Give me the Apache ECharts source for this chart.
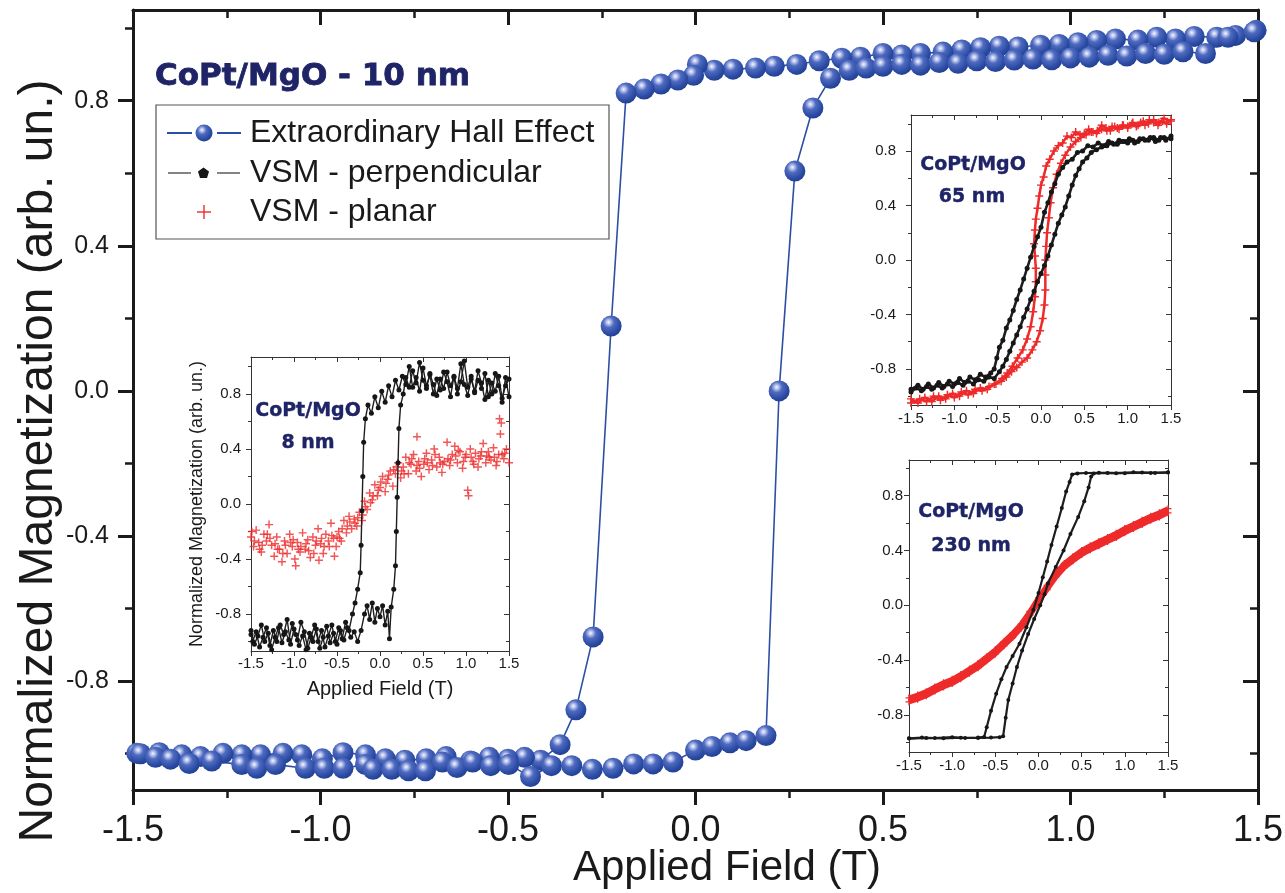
<!DOCTYPE html>
<html><head><meta charset="utf-8">
<script src="https://cdn.jsdelivr.net/npm/echarts@6/dist/echarts.min.js"></script>
<style>html,body{margin:0;padding:0;background:#fff}#c{width:1285px;height:893px}</style>
</head><body><div id="c"></div>
<script>
// ---------------- DATA ----------------
// Main plot: Extraordinary Hall Effect, CoPt/MgO 10 nm  [field (T), normalized M]
const eheUp = [
[-1.48,-1.0],[-1.44,-1.01],[-1.40,-1.015],[-1.35,-1.027],[-1.29,-1.02],[-1.21,-1.03],[-1.17,-1.04],[-1.12,-1.03],[-1.04,-1.04],[-0.99,-1.04],[-0.94,-1.04],[-0.88,-1.03],[-0.86,-1.043],[-0.81,-1.043],[-0.765,-1.047],[-0.72,-1.047],[-0.675,-1.023],[-0.636,-1.038],[-0.594,-1.023],[-0.546,-1.033],[-0.498,-1.03],[-0.44,-1.063],[-0.384,-1.033],[-0.33,-1.033],[-0.275,-1.043],[-0.22,-1.04],[-0.165,-1.028],[-0.113,-1.028],[-0.06,-1.023],[0.0,-0.99],[0.044,-0.98],[0.092,-0.97],[0.135,-0.964],[0.188,-0.95],
[0.223,0.0],[0.265,0.606],[0.313,0.78],[0.36,0.862],[0.41,0.884],[0.455,0.89],[0.50,0.895],[0.55,0.90],[0.60,0.898],[0.65,0.905],[0.70,0.903],[0.75,0.91],[0.80,0.908],[0.85,0.912],[0.90,0.915],[0.95,0.913],[1.00,0.918],[1.05,0.92],[1.10,0.925],[1.15,0.923],[1.20,0.93],[1.25,0.928],[1.30,0.935],[1.36,0.93],[1.42,0.975],[1.49,0.99]
];
const eheDown = [
[1.495,0.994],[1.44,0.98],[1.39,0.975],[1.33,0.977],[1.28,0.97],[1.23,0.975],[1.18,0.967],[1.12,0.97],[1.07,0.966],[1.02,0.96],[0.97,0.955],[0.92,0.953],[0.86,0.948],[0.81,0.95],[0.76,0.946],[0.71,0.94],[0.66,0.934],[0.60,0.93],[0.55,0.926],[0.50,0.93],[0.44,0.92],[0.39,0.917],[0.33,0.91],[0.27,0.90],[0.21,0.895],[0.16,0.89],[0.10,0.887],[0.05,0.884],[0.005,0.9],[-0.005,0.87],[-0.047,0.857],[-0.092,0.846],[-0.137,0.832],[-0.185,0.821],
[-0.225,0.179],[-0.273,-0.678],[-0.319,-0.879],[-0.361,-0.975],
[-0.413,-1.018],[-0.456,-1.01],[-0.50,-1.015],[-0.55,-1.01],[-0.60,-1.02],[-0.665,-1.008],[-0.718,-1.014],[-0.775,-1.018],[-0.827,-1.014],[-0.88,-1.003],[-0.94,-0.997],[-0.995,-1.014],[-1.05,-1.003],[-1.10,-0.999],[-1.16,-1.003],[-1.21,-1.003],[-1.26,-0.999],[-1.32,-1.008],[-1.37,-1.003],[-1.43,-0.997],[-1.49,-0.999]
];

// Inset 8 nm
const black8Down = [
[1.50,0.78],[1.46,0.92],[1.42,0.74],[1.38,0.86],[1.34,0.95],[1.30,0.80],[1.26,0.90],[1.22,0.76],[1.18,0.88],[1.14,0.97],[1.10,0.82],[1.06,0.91],[1.02,0.79],[0.98,0.87],[0.94,1.02],[0.90,0.84],[0.86,0.93],[0.82,0.78],[0.78,0.89],[0.74,0.96],[0.70,0.83],[0.66,0.91],[0.62,0.80],[0.58,0.94],[0.54,0.86],[0.50,0.99],[0.46,0.82],[0.42,0.92],[0.38,0.85],[0.34,1.0],[0.30,0.87],[0.26,0.93],[0.22,0.83],[0.18,0.90],[0.14,0.78],[0.10,0.86],[0.06,0.74],[0.02,0.82],[-0.02,0.70],[-0.06,0.78],[-0.10,0.66],[-0.14,0.72],[-0.17,0.62],[-0.19,0.45],[-0.20,0.2],[-0.21,-0.05],[-0.22,-0.3],[-0.23,-0.5],[-0.26,-0.62],[-0.29,-0.72],[-0.32,-0.80],[-0.36,-0.92],[-0.40,-0.86],[-0.44,-0.98],[-0.48,-0.90],[-0.52,-1.0],[-0.56,-0.88],[-0.60,-0.96],[-0.64,-1.04],[-0.68,-0.92],[-0.72,-1.0],[-0.76,-0.88],[-0.80,-0.97],[-0.84,-1.05],[-0.88,-0.93],[-0.92,-0.86],[-0.96,-0.99],[-1.00,-0.91],[-1.04,-1.02],[-1.08,-0.84],[-1.12,-0.95],[-1.16,-0.88],[-1.20,-1.0],[-1.24,-0.92],[-1.28,-1.03],[-1.32,-0.90],[-1.36,-0.97],[-1.40,-1.04],[-1.44,-0.93],[-1.48,-1.0],[-1.50,-0.95]
];
const black8Up = [
[-1.50,-0.92],[-1.46,-1.02],[-1.42,-0.96],[-1.38,-0.88],[-1.34,-1.0],[-1.30,-0.94],[-1.26,-1.06],[-1.22,-0.97],[-1.18,-0.90],[-1.14,-1.01],[-1.10,-0.93],[-1.06,-0.99],[-1.02,-0.87],[-0.98,-0.95],[-0.94,-1.03],[-0.90,-0.96],[-0.86,-1.06],[-0.82,-0.94],[-0.78,-1.0],[-0.74,-0.91],[-0.70,-1.05],[-0.66,-0.97],[-0.62,-0.89],[-0.58,-1.01],[-0.54,-0.94],[-0.50,-1.02],[-0.46,-0.92],[-0.42,-0.99],[-0.38,-0.90],[-0.34,-0.97],[-0.30,-0.93],[-0.26,-1.0],[-0.22,-0.92],[-0.18,-0.80],[-0.15,-0.74],[-0.12,-0.84],[-0.09,-0.72],[-0.06,-0.86],[-0.03,-0.76],[0.00,-0.82],[0.03,-0.74],[0.06,-0.88],[0.09,-0.78],[0.11,-0.98],[0.13,-0.75],[0.16,-0.62],[0.18,-0.45],[0.19,-0.2],[0.20,0.05],[0.21,0.3],[0.22,0.55],[0.24,0.72],[0.27,0.80],[0.30,0.92],[0.34,0.85],[0.38,0.97],[0.42,0.88],[0.46,1.03],[0.50,0.90],[0.54,0.84],[0.58,0.95],[0.62,0.87],[0.66,0.79],[0.70,0.91],[0.74,0.84],[0.78,0.96],[0.82,0.86],[0.86,0.92],[0.90,0.80],[0.94,0.89],[0.98,1.04],[1.02,0.85],[1.06,0.93],[1.10,0.81],[1.14,0.90],[1.18,0.84],[1.22,0.95],[1.26,0.78],[1.30,0.88],[1.34,0.82],[1.38,0.93],[1.42,0.77],[1.46,0.86],[1.50,0.91]
];
const red8 = [
[-1.50,-0.24],[-1.47,-0.31],[-1.44,-0.19],[-1.41,-0.28],[-1.38,-0.35],[-1.35,-0.22],[-1.32,-0.27],[-1.29,-0.15],[-1.26,-0.30],[-1.23,-0.38],[-1.20,-0.24],[-1.17,-0.33],[-1.14,-0.42],[-1.11,-0.27],[-1.08,-0.36],[-1.05,-0.22],[-1.02,-0.31],[-0.99,-0.40],[-0.96,-0.28],[-0.93,-0.35],[-0.90,-0.21],[-0.87,-0.33],[-0.84,-0.26],[-0.81,-0.39],[-0.78,-0.24],[-0.75,-0.30],[-0.72,-0.18],[-0.69,-0.29],[-0.66,-0.36],[-0.63,-0.22],[-0.60,-0.27],[-0.57,-0.14],[-0.54,-0.25],[-0.51,-0.31],[-0.48,-0.20],[-0.45,-0.27],[-0.42,-0.12],[-0.39,-0.21],[-0.36,-0.09],[-0.33,-0.18],[-0.30,-0.11],[-0.27,-0.16],[-0.24,-0.06],[-0.21,-0.12],[-0.18,0.02],[-0.15,-0.04],[-0.12,0.08],[-0.09,0.03],[-0.06,0.14],[-0.03,0.06],[0.00,0.12],[0.03,0.20],[0.06,0.09],[0.09,0.18],[0.12,0.24],[0.15,0.13],[0.18,0.22],[0.21,0.30],[0.24,0.19],[0.27,0.27],[0.30,0.34],[0.33,0.22],[0.36,0.29],[0.39,0.36],[0.42,0.24],[0.45,0.31],[0.48,0.20],[0.51,0.29],[0.54,0.37],[0.57,0.25],[0.60,0.32],[0.63,0.40],[0.66,0.27],[0.69,0.34],[0.72,0.23],[0.75,0.31],[0.78,0.45],[0.81,0.28],[0.84,0.36],[0.87,0.42],[0.90,0.30],[0.93,0.38],[0.96,0.26],[0.99,0.34],[1.02,0.10],[1.05,0.40],[1.08,0.31],[1.11,0.37],[1.14,0.27],[1.17,0.35],[1.20,0.44],[1.23,0.30],[1.26,0.38],[1.29,0.32],[1.32,0.41],[1.35,0.28],[1.38,0.36],[1.41,0.59],[1.44,0.33],[1.47,0.40],[1.50,0.30],
[-1.46,-0.27],[-1.37,-0.30],[-1.28,-0.25],[-1.19,-0.33],[-1.10,-0.30],[-1.01,-0.26],[-0.92,-0.31],[-0.83,-0.34],[-0.74,-0.27],[-0.65,-0.31],[-0.56,-0.23],[-0.47,-0.25],[-0.38,-0.16],[-0.29,-0.14],[-0.20,-0.08],[-0.11,0.01],[-0.02,0.10],[0.07,0.15],[0.16,0.25],[0.25,0.24],[0.34,0.30],[0.43,0.28],[0.52,0.33],[0.61,0.28],[0.70,0.30],[0.79,0.33],[0.88,0.35],[0.97,0.31],[1.06,0.34],[1.15,0.33],[1.24,0.35],[1.33,0.34],[1.42,0.36],
[-1.49,-0.20],[-1.40,-0.33],[-1.31,-0.22],[-1.22,-0.29],[-1.13,-0.36],[-1.04,-0.28],[-0.95,-0.33],[-0.86,-0.29],[-0.77,-0.36],[-0.68,-0.25],[-0.59,-0.31],[-0.50,-0.24],[-0.44,-0.18],[-0.35,-0.13],[-0.26,-0.10],[-0.17,-0.02],[-0.08,0.06],[0.01,0.16],[0.10,0.21],[0.19,0.27],[0.28,0.22],[0.37,0.33],[0.46,0.26],[0.55,0.30],[0.64,0.36],[0.73,0.29],[0.82,0.32],[0.91,0.39],[1.00,0.36],[1.09,0.29],[1.18,0.38],[1.27,0.34],[1.36,0.31],[1.45,0.37],[-0.53,-0.38],[-0.71,-0.41],[-0.98,-0.45],[1.03,0.06],[0.43,0.49],[1.40,0.51],[1.39,0.62]
];

// Inset 65 nm
const black65Down = [
[1.50,0.91],[1.44,0.88],[1.38,0.90],[1.32,0.87],[1.26,0.90],[1.20,0.88],[1.14,0.89],[1.08,0.86],[1.02,0.89],[0.96,0.87],[0.90,0.88],[0.84,0.85],[0.78,0.87],[0.72,0.84],[0.66,0.86],[0.60,0.83],[0.54,0.84],[0.48,0.80],[0.42,0.79],[0.36,0.74],[0.30,0.72],[0.25,0.68],[0.20,0.63],[0.16,0.56],[0.12,0.50],[0.08,0.42],[0.04,0.35],[0.00,0.24],[-0.04,0.17],[-0.08,0.10],[-0.12,0.02],[-0.16,-0.06],[-0.20,-0.14],[-0.24,-0.22],[-0.28,-0.29],[-0.32,-0.37],[-0.36,-0.44],[-0.40,-0.50],[-0.44,-0.59],[-0.48,-0.64],[-0.51,-0.72],[-0.54,-0.80],[-0.58,-0.83],[-0.64,-0.86],[-0.70,-0.84],[-0.76,-0.88],[-0.82,-0.86],[-0.88,-0.90],[-0.94,-0.87],[-1.00,-0.91],[-1.06,-0.89],[-1.12,-0.93],[-1.18,-0.90],[-1.24,-0.94],[-1.30,-0.91],[-1.36,-0.95],[-1.42,-0.92],[-1.50,-0.95]
];
const black65Up = [
[-1.50,-0.97],[-1.44,-0.94],[-1.38,-0.96],[-1.32,-0.93],[-1.26,-0.95],[-1.20,-0.92],[-1.14,-0.94],[-1.08,-0.91],[-1.02,-0.93],[-0.96,-0.90],[-0.90,-0.92],[-0.84,-0.89],[-0.78,-0.91],[-0.72,-0.88],[-0.66,-0.89],[-0.60,-0.86],[-0.54,-0.87],[-0.48,-0.82],[-0.44,-0.78],[-0.40,-0.73],[-0.36,-0.67],[-0.32,-0.61],[-0.28,-0.55],[-0.24,-0.49],[-0.20,-0.42],[-0.16,-0.36],[-0.12,-0.29],[-0.08,-0.23],[-0.04,-0.16],[0.00,-0.10],[0.04,-0.04],[0.08,0.03],[0.12,0.11],[0.16,0.19],[0.20,0.27],[0.24,0.33],[0.28,0.39],[0.32,0.47],[0.36,0.55],[0.40,0.62],[0.44,0.67],[0.48,0.72],[0.53,0.75],[0.58,0.79],[0.64,0.81],[0.70,0.83],[0.76,0.84],[0.82,0.86],[0.88,0.85],[0.94,0.87],[1.00,0.86],[1.06,0.88],[1.12,0.87],[1.18,0.89],[1.24,0.88],[1.30,0.90],[1.36,0.88],[1.42,0.90],[1.50,0.89]
];
const red65Down = [
[1.50,1.03],[1.45,1.00],[1.40,1.02],[1.35,0.99],[1.30,1.01],[1.25,1.03],[1.20,0.99],[1.15,1.01],[1.10,0.98],[1.05,1.00],[1.00,0.97],[0.95,0.99],[0.90,0.96],[0.85,0.98],[0.80,0.95],[0.75,0.97],[0.70,0.99],[0.65,0.95],[0.60,0.94],[0.55,0.96],[0.50,0.93],[0.45,0.92],[0.40,0.94],[0.35,0.90],[0.30,0.91],[0.25,0.86],[0.20,0.84],[0.15,0.80],[0.10,0.74],[0.06,0.69],[0.03,0.61],[0.00,0.55],[-0.02,0.47],[-0.04,0.38],[-0.06,0.30],[-0.07,0.22],[-0.08,0.12],[-0.07,0.03],[-0.06,-0.06],[-0.06,-0.16],[-0.07,-0.27],[-0.09,-0.38],[-0.12,-0.49],[-0.16,-0.58],[-0.21,-0.66],[-0.27,-0.72],[-0.33,-0.78],[-0.39,-0.83],[-0.45,-0.87],[-0.52,-0.91],[-0.60,-0.93],[-0.68,-0.96],[-0.76,-0.95],[-0.84,-0.99],[-0.92,-0.97],[-1.00,-1.01],[-1.08,-0.99],[-1.16,-1.03],[-1.24,-1.00],[-1.32,-1.04],[-1.40,-1.02],[-1.50,-1.05]
];
const red65Up = [
[-1.50,-1.02],[-1.42,-1.05],[-1.34,-1.01],[-1.26,-1.04],[-1.18,-1.00],[-1.10,-1.02],[-1.02,-0.98],[-0.94,-1.00],[-0.86,-0.96],[-0.78,-0.98],[-0.70,-0.94],[-0.62,-0.95],[-0.54,-0.91],[-0.46,-0.89],[-0.40,-0.86],[-0.34,-0.82],[-0.28,-0.79],[-0.22,-0.75],[-0.16,-0.72],[-0.10,-0.66],[-0.05,-0.60],[-0.01,-0.52],[0.02,-0.43],[0.04,-0.33],[0.05,-0.22],[0.05,-0.11],[0.05,0.00],[0.06,0.10],[0.07,0.20],[0.09,0.31],[0.11,0.42],[0.14,0.53],[0.18,0.63],[0.23,0.71],[0.28,0.77],[0.34,0.83],[0.40,0.87],[0.46,0.90],[0.52,0.92],[0.58,0.94],[0.64,0.93],[0.70,0.96],[0.76,0.95],[0.82,0.98],[0.88,0.97],[0.94,0.99],[1.00,0.98],[1.06,1.01],[1.12,0.99],[1.18,1.02],[1.24,1.00],[1.30,1.03],[1.36,1.01],[1.42,1.04],[1.50,1.02]
];

// Inset 230 nm
const black230Down = [
[1.50,0.968],[1.30,0.966],[1.10,0.97],[0.90,0.964],[0.70,0.967],[0.55,0.965],[0.45,0.962],[0.39,0.955],[0.36,0.90],[0.32,0.83],[0.27,0.71],[0.21,0.575],[0.15,0.44],[0.10,0.32],[0.05,0.205],[0.0,0.09],[-0.06,-0.035],[-0.14,-0.16],[-0.22,-0.28],[-0.30,-0.37],[-0.37,-0.45],[-0.43,-0.54],[-0.49,-0.645],[-0.55,-0.77],[-0.60,-0.89],[-0.63,-0.96],[-0.70,-0.965],[-0.85,-0.968],[-1.00,-0.962],[-1.20,-0.968],[-1.35,-0.965],[-1.50,-0.97]
];
const black230Up = [
[-1.50,-0.972],[-1.30,-0.968],[-1.10,-0.97],[-0.90,-0.966],[-0.70,-0.968],[-0.55,-0.965],[-0.45,-0.962],[-0.41,-0.955],[-0.38,-0.82],[-0.35,-0.69],[-0.30,-0.57],[-0.25,-0.45],[-0.19,-0.33],[-0.12,-0.21],[-0.05,-0.10],[0.02,0.0],[0.07,0.08],[0.11,0.16],[0.20,0.28],[0.29,0.40],[0.37,0.52],[0.46,0.645],[0.53,0.76],[0.58,0.86],[0.61,0.94],[0.64,0.962],[0.80,0.966],[1.00,0.964],[1.20,0.968],[1.35,0.966],[1.50,0.97]
];
const red230Down = [
[1.50,0.705],[1.40,0.675],[1.30,0.65],[1.20,0.62],[1.10,0.59],[1.00,0.56],[0.90,0.525],[0.80,0.495],[0.70,0.465],[0.60,0.435],[0.50,0.40],[0.40,0.355],[0.30,0.305],[0.20,0.235],[0.10,0.145],[0.00,0.055],[-0.10,-0.045],[-0.20,-0.135],[-0.30,-0.205],[-0.40,-0.265],[-0.50,-0.325],[-0.60,-0.375],[-0.70,-0.425],[-0.80,-0.465],[-0.90,-0.505],[-1.00,-0.54],[-1.10,-0.565],[-1.20,-0.595],[-1.30,-0.63],[-1.40,-0.655],[-1.50,-0.675]
];
const red230Up = [
[-1.50,-0.705],[-1.40,-0.685],[-1.30,-0.66],[-1.20,-0.625],[-1.10,-0.595],[-1.00,-0.57],[-0.90,-0.535],[-0.80,-0.495],[-0.70,-0.455],[-0.60,-0.405],[-0.50,-0.355],[-0.40,-0.295],[-0.30,-0.235],[-0.20,-0.165],[-0.10,-0.075],[0.00,0.025],[0.10,0.115],[0.20,0.205],[0.30,0.275],[0.40,0.325],[0.50,0.37],[0.60,0.405],[0.70,0.435],[0.80,0.465],[0.90,0.495],[1.00,0.53],[1.10,0.56],[1.20,0.59],[1.30,0.62],[1.40,0.645],[1.50,0.675]
];

// Tick values
const yMajorTicks = [-0.8, -0.4, 0.0, 0.4, 0.8];
const yMinorTicks = [-1.0, -0.6, -0.2, 0.2, 0.6, 1.0];
const fieldRange = [-1.5, 1.5];
const fieldStep = 0.5;

// Texts
const mainTitle = 'CoPt/MgO - 10 nm';
const mainXName = 'Applied Field (T)';
const mainYName = 'Normalized Magnetization (arb. un.)';
const legendNames = ['Extraordinary Hall Effect', 'VSM - perpendicular', 'VSM - planar'];
const insetLabels = [['CoPt/MgO', '8 nm'], ['CoPt/MgO', '65 nm'], ['CoPt/MgO', '230 nm']];

// ---------------- CHART ----------------
const FONT = '"Liberation Sans", Arial, Helvetica, sans-serif';
const NAVY = '#1e2466';
const BLUE = '#2d4fa3';
const RED = '#ee2a2a';
const BLACK = '#161616';
const PLUS = 'path://M0,4.1 L10,4.1 L10,5.9 L0,5.9 Z M4.1,0 L5.9,0 L5.9,10 L4.1,10 Z';

function sphere() {
  return new echarts.graphic.RadialGradient(0.38, 0.32, 0.72, [
    {offset: 0, color: '#f6f7ff'}, {offset: 0.14, color: '#b8c3ec'},
    {offset: 0.36, color: '#4f6bc0'}, {offset: 0.75, color: '#2c4ca4'}, {offset: 1, color: '#1f3d92'}
  ]);
}
function fmt(v) { return (Math.abs(v) < 1e-9 ? 0 : v).toFixed(1); }

const xAxes = [], yAxes = [], grids = [];
function addFrame(g, f) {
  const gi = grids.length;
  grids.push(Object.assign({show: true, backgroundColor: '#fff', borderWidth: 0, containLabel: false, outerBoundsMode: 'none'}, g));
  const line = {show: true, onZero: false, lineStyle: {color: f.color, width: f.lw}};
  const tick = (len, w, inside, cv) => {
    const t = {show: true, inside: inside, length: len, lineStyle: {color: f.color, width: w}};
    if (cv) t.customValues = cv;
    return t;
  };
  const common = {type: 'value', gridIndex: gi, splitLine: {show: false}, minorSplitLine: {show: false}, nameMoveOverlap: false};
  const xi = xAxes.length;
  xAxes.push(Object.assign({}, common, {
    position: 'bottom', min: fieldRange[0], max: fieldRange[1], interval: fieldStep,
    axisLine: line, axisTick: tick(f.majLen, f.tw, false),
    minorTick: {show: true, splitNumber: 2, length: f.minLen, lineStyle: {color: f.color, width: f.mtw}},
    axisLabel: {show: true, fontSize: f.xfs, color: '#1a1a1a', margin: f.xmargin, fontFamily: FONT, formatter: fmt, showMinLabel: true, showMaxLabel: true, hideOverlap: false},
    name: f.xName || '', nameLocation: 'middle', nameGap: f.xNameGap || 0,
    nameTextStyle: {fontSize: f.xNameFs || 12, color: '#1a1a1a', fontFamily: FONT}
  }));
  xAxes.push(Object.assign({}, common, {
    position: 'top', min: fieldRange[0], max: fieldRange[1], interval: fieldStep,
    axisLine: line, axisTick: tick(f.majLen, f.tw, true),
    minorTick: {show: true, splitNumber: 2, length: f.minLen, lineStyle: {color: f.color, width: f.mtw}},
    axisLabel: {show: false}
  }));
  const yi = yAxes.length;
  yAxes.push(Object.assign({}, common, {
    position: 'left', min: f.ymin, max: f.ymax,
    axisLine: line, axisTick: tick(f.majLen, f.tw, false, yMajorTicks),
    axisLabel: {show: true, customValues: yMajorTicks, fontSize: f.yfs, color: '#1a1a1a', margin: f.ymargin, fontFamily: FONT, formatter: fmt, hideOverlap: false},
    name: f.yName || '', nameLocation: 'middle', nameGap: f.yNameGap || 0,
    nameTextStyle: {fontSize: f.yNameFs || 12, color: '#1a1a1a', fontFamily: FONT}
  }));
  yAxes.push(Object.assign({}, common, {
    position: 'left', min: f.ymin, max: f.ymax,
    axisLine: {show: false, onZero: false}, axisTick: tick(f.minLen, f.mtw, false, yMinorTicks), axisLabel: {show: false}
  }));
  yAxes.push(Object.assign({}, common, {
    position: 'right', min: f.ymin, max: f.ymax,
    axisLine: line, axisTick: tick(f.majLen, f.tw, true, yMajorTicks), axisLabel: {show: false}
  }));
  yAxes.push(Object.assign({}, common, {
    position: 'right', min: f.ymin, max: f.ymax,
    axisLine: {show: false, onZero: false}, axisTick: tick(f.minLen, f.mtw, true, yMinorTicks), axisLabel: {show: false}
  }));
  return {xi: xi, yi: yi};
}

const main = addFrame({left: 133, top: 10, width: 1125, height: 780}, {
  ymin: -1.1, ymax: 1.05, color: '#1a1a1a', lw: 3, tw: 3, mtw: 2.5, majLen: 15, minLen: 8,
  xfs: 36, yfs: 25, xmargin: 23, ymargin: 24
});
const in8 = addFrame({left: 251, top: 357, width: 258, height: 294}, {
  ymin: -1.07, ymax: 1.07, color: '#333', lw: 1, tw: 1, mtw: 1, majLen: 5, minLen: 3,
  xfs: 15, yfs: 15, xmargin: 5, ymargin: 10,
  xName: 'Applied Field (T)', xNameGap: 28, xNameFs: 20,
  yName: 'Normalized Magnetization (arb. un.)', yNameGap: 45, yNameFs: 18
});
const in65 = addFrame({left: 911, top: 115, width: 260, height: 290}, {
  ymin: -1.065, ymax: 1.065, color: '#333', lw: 1, tw: 1, mtw: 1, majLen: 5, minLen: 3,
  xfs: 15, yfs: 15, xmargin: 6, ymargin: 15
});
const in230 = addFrame({left: 909, top: 460, width: 259, height: 292}, {
  ymin: -1.07, ymax: 1.06, color: '#333', lw: 1, tw: 1, mtw: 1, majLen: 5, minLen: 3,
  xfs: 15, yfs: 15, xmargin: 6, ymargin: 6
});

function ehe(data) {
  return {name: legendNames[0], type: 'line', data: data, xAxisIndex: main.xi, yAxisIndex: main.yi,
    symbol: 'circle', symbolSize: 21, showAllSymbol: true, z: 3,
    itemStyle: {color: sphere(), borderWidth: 0},
    lineStyle: {color: BLUE, width: 1.6}};
}
function perp(data, ax, size, lw) {
  return {name: legendNames[1], type: 'line', data: data, xAxisIndex: ax.xi, yAxisIndex: ax.yi,
    symbol: 'circle', symbolSize: size, showAllSymbol: true, z: 4,
    itemStyle: {color: BLACK}, lineStyle: {color: '#1e1e1e', width: lw}};
}
function planar(data, ax, size) {
  return {name: legendNames[2], type: 'scatter', data: data, xAxisIndex: ax.xi, yAxisIndex: ax.yi,
    symbol: PLUS, symbolSize: size, z: 3, itemStyle: {color: RED}};
}
function planarLine(data, ax, size, lw) {
  return {name: legendNames[2], type: 'line', data: data, xAxisIndex: ax.xi, yAxisIndex: ax.yi,
    symbol: PLUS, symbolSize: size, showAllSymbol: true, z: 3,
    itemStyle: {color: RED}, lineStyle: {color: RED, width: lw}};
}

const series = [
  ehe(eheDown), ehe(eheUp),
  planar(red8, in8, 8),
  perp(black8Down, in8, 5, 1.4), perp(black8Up, in8, 5, 1.4),
  planarLine(red65Down, in65, 8, 2.5), planarLine(red65Up, in65, 8, 2.5),
  perp(black65Down, in65, 5, 2.6), perp(black65Up, in65, 5, 2.6),
  planarLine(red230Down, in230, 7, 5), planarLine(red230Up, in230, 7, 5),
  perp(black230Down, in230, 4, 2.2), perp(black230Up, in230, 4, 2.2)
];

function txt(x, y, text, font, fill, align, extra) {
  return {type: 'text', x: x, y: y, z: 100, silent: true,
    style: Object.assign({text: text, font: font, fill: fill, align: align, textAlign: align,
      verticalAlign: 'middle', textVerticalAlign: 'middle'}, extra || {})};
}
const BOLD = 'bold 19px "DejaVu Sans", sans-serif';
const yTitle = txt(0, 0, mainYName, '48px ' + FONT, '#1a1a1a', 'center');
yTitle.x = 39; yTitle.y = 461; yTitle.rotation = Math.PI / 2;
const graphic = [
  txt(155, 77, mainTitle, 'bold 31px "DejaVu Sans", sans-serif', NAVY, 'left', {stroke: NAVY, lineWidth: 0.8}),
  yTitle,
  txt(727, 868, mainXName, '42px ' + FONT, '#1a1a1a', 'center'),
  {type: 'rect', z: 90, silent: true, shape: {x: 156, y: 105, width: 453, height: 134},
    style: {fill: '#fff', stroke: '#555', lineWidth: 1.2}},
  {type: 'line', z: 95, shape: {x1: 167, y1: 133, x2: 192, y2: 133}, style: {stroke: BLUE, lineWidth: 2}},
  {type: 'line', z: 95, shape: {x1: 217, y1: 133, x2: 241, y2: 133}, style: {stroke: BLUE, lineWidth: 2}},
  {type: 'circle', z: 96, shape: {cx: 204, cy: 133, r: 8.5}, style: {fill: sphere()}},
  {type: 'line', z: 95, shape: {x1: 168, y1: 173, x2: 191, y2: 173}, style: {stroke: '#666', lineWidth: 1.6}},
  {type: 'line', z: 95, shape: {x1: 217, y1: 173, x2: 240, y2: 173}, style: {stroke: '#666', lineWidth: 1.6}},
  {type: 'polygon', z: 96, shape: {points: [[203.5, 167.5], [209, 171.5], [207, 178], [200, 178], [198, 171.5]]}, style: {fill: BLACK}},
  {type: 'line', z: 95, shape: {x1: 197, y1: 212, x2: 211, y2: 212}, style: {stroke: RED, lineWidth: 1.4}},
  {type: 'line', z: 95, shape: {x1: 204, y1: 205, x2: 204, y2: 219}, style: {stroke: RED, lineWidth: 1.4}},
  txt(250, 133, legendNames[0], '32px ' + FONT, '#1a1a1a', 'left'),
  txt(250, 173, legendNames[1], '32px ' + FONT, '#1a1a1a', 'left'),
  txt(250, 212, legendNames[2], '32px ' + FONT, '#1a1a1a', 'left'),
  txt(308, 411, insetLabels[0][0], BOLD, NAVY, 'center', {stroke: NAVY, lineWidth: 0.4}),
  txt(308, 443, insetLabels[0][1], BOLD, NAVY, 'center', {stroke: NAVY, lineWidth: 0.4}),
  txt(973, 165, insetLabels[1][0], BOLD, NAVY, 'center', {stroke: NAVY, lineWidth: 0.4}),
  txt(972, 197, insetLabels[1][1], BOLD, NAVY, 'center', {stroke: NAVY, lineWidth: 0.4}),
  txt(971, 512, insetLabels[2][0], BOLD, NAVY, 'center', {stroke: NAVY, lineWidth: 0.4}),
  txt(971, 546, insetLabels[2][1], BOLD, NAVY, 'center', {stroke: NAVY, lineWidth: 0.4})
];

const chart = echarts.init(document.getElementById('c'), null, {renderer: 'canvas'});
chart.setOption({
  animation: false,
  backgroundColor: '#fff',
  textStyle: {fontFamily: FONT},
  grid: grids, xAxis: xAxes, yAxis: yAxes,
  series: series, graphic: graphic
});
</script></body></html>
